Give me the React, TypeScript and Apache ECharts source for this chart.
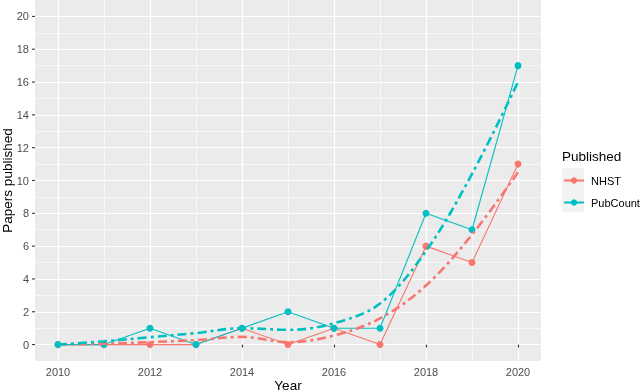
import React, { useEffect, useRef } from 'react';
import * as echarts from 'echarts';

const years = ['2010', '2011', '2012', '2013', '2014', '2015', '2016', '2017', '2018', '2019', '2020'];
const nhst = [0, 0, 0, 0, 1, 0, 1, 0, 6, 5, 11];
const pubCount = [0, 0, 1, 0, 1, 2, 1, 1, 8, 7, 17];
const nhstSmooth = [0, 0.05, 0.15, 0.27, 0.47, 0.15, 0.55, 1.6, 3.6, 6.7, 10.5];
const pubCountSmooth = [0, 0.2, 0.45, 0.7, 1.0, 0.9, 1.3, 2.5, 5.7, 10.4, 16.0];
const yTicks = [0, 2, 4, 6, 8, 10, 12, 14, 16, 18, 20];
const seriesNames = ['NHST', 'PubCount'];
const legendTitle = 'Published';
const xTitle = 'Year';
const yTitle = 'Papers published';

const Y_MIN = -1;
const Y_MAX = 21;
const RED = '#F8766D';
const TEAL = '#00BFC4';
const FONT = 'Liberation Sans, Arial, sans-serif';

function levelColors(pick: (v: number) => boolean): string[] {
  const out: string[] = [];
  for (let v = Y_MIN; v <= Y_MAX; v++) out.push(pick(v) ? '#FFFFFF' : 'rgba(0,0,0,0)');
  return out;
}

export default function App() {
  const ref = useRef<HTMLDivElement>(null);
  useEffect(() => {
    if (!ref.current) return;
    const chart = echarts.init(ref.current, undefined, { renderer: 'svg' });
    const dash = [9, 4, 3, 4];
    const option: any = {
      animation: false,
      textStyle: { fontFamily: FONT },
      graphic: [
        {
          type: 'rect',
          left: 562,
          top: 168,
          shape: { width: 22, height: 44 },
          style: { fill: '#F2F2F2' },
          z: -1,
        },
        {
          type: 'text',
          left: 562,
          top: 149,
          style: { text: legendTitle, fontSize: 13.5, fill: '#000', fontFamily: FONT },
        },
      ],
      grid: {
        left: 35,
        right: 99,
        top: 0,
        bottom: 30,
        show: true,
        backgroundColor: '#EBEBEB',
        borderWidth: 0,
        containLabel: false,
        outerBoundsMode: 'none',
      },
      legend: {
        data: seriesNames,
        orient: 'vertical',
        left: 558,
        top: 170,
        padding: 5,
        itemWidth: 20,
        itemHeight: 8,
        itemGap: 11,
        textStyle: { fontSize: 11, color: '#000', padding: [0, 0, 0, 2], fontFamily: FONT },
        lineStyle: { width: 2 },
      },
      xAxis: [
        {
          type: 'category',
          data: years,
          boundaryGap: true,
          name: xTitle,
          nameLocation: 'middle',
          nameGap: 17,
          nameMoveOverlap: false,
          nameTextStyle: { fontSize: 13.5, color: '#000', fontFamily: FONT },
          axisLine: { show: false },
          axisTick: {
            show: true,
            alignWithLabel: true,
            length: 3,
            interval: (i: number) => i % 2 === 0,
            lineStyle: { color: '#333333', width: 1.1 },
          },
          axisLabel: {
            interval: (i: number) => i % 2 === 0,
            color: '#4D4D4D',
            fontSize: 11,
            margin: 5,
            fontFamily: FONT,
          },
          splitLine: {
            show: true,
            alignWithLabel: true,
            interval: (i: number) => i % 2 === 0,
            lineStyle: { color: '#FFFFFF', width: 1.2 },
          },
        },
        {
          type: 'category',
          data: years,
          boundaryGap: true,
          position: 'bottom',
          axisLine: { show: false },
          axisTick: { show: false },
          axisLabel: { show: false },
          splitLine: {
            show: true,
            alignWithLabel: true,
            interval: (i: number) => i % 2 === 1,
            lineStyle: { color: '#FFFFFF', width: 0.6 },
          },
        },
      ],
      yAxis: [
        {
          type: 'value',
          min: Y_MIN,
          max: Y_MAX,
          interval: 1,
          name: yTitle,
          nameLocation: 'middle',
          nameGap: 21,
          nameMoveOverlap: false,
          nameTextStyle: { fontSize: 13.5, color: '#000', fontFamily: FONT },
          axisLine: { show: false },
          axisTick: { show: false },
          axisLabel: {
            color: '#4D4D4D',
            fontSize: 11,
            margin: 6,
            fontFamily: FONT,
            formatter: (v: number) => (yTicks.indexOf(v) >= 0 ? String(v) : ''),
          },
          splitLine: {
            show: true,
            lineStyle: { color: levelColors((v) => yTicks.indexOf(v) >= 0), width: 1.2 },
          },
        },
        {
          type: 'value',
          min: Y_MIN,
          max: Y_MAX,
          interval: 1,
          axisLine: { show: false },
          axisTick: { show: false },
          axisLabel: { show: false },
          splitLine: {
            show: true,
            lineStyle: {
              color: levelColors((v) => v > yTicks[0] && v < yTicks[yTicks.length - 1] && yTicks.indexOf(v) < 0),
              width: 0.6,
            },
          },
        },
      ],
      series: [
        {
          type: 'custom',
          silent: true,
          clip: false,
          data: yTicks.map((v) => [0, v]),
          encode: { x: 0, y: 1 },
          renderItem: (params: any, api: any) => {
            const p = api.coord([api.value(0), api.value(1)]);
            const left = params.coordSys.x;
            return {
              type: 'line',
              shape: { x1: left - 3, y1: p[1], x2: left, y2: p[1] },
              style: { stroke: '#333333', lineWidth: 1.1 },
            };
          },
        },
        {
          name: seriesNames[0],
          type: 'line',
          data: nhst,
          symbol: 'circle',
          symbolSize: 7,
          itemStyle: { color: RED },
          lineStyle: { color: RED, width: 1.1 },
          z: 3,
        },
        {
          name: seriesNames[1],
          type: 'line',
          data: pubCount,
          symbol: 'circle',
          symbolSize: 7,
          itemStyle: { color: TEAL },
          lineStyle: { color: TEAL, width: 1.1 },
          z: 3,
        },
        {
          name: seriesNames[0] + ' fit',
          type: 'line',
          data: nhstSmooth,
          smooth: 0.35,
          symbol: 'none',
          showSymbol: false,
          itemStyle: { color: RED },
          lineStyle: { color: RED, width: 2.6, type: dash },
          z: 4,
        },
        {
          name: seriesNames[1] + ' fit',
          type: 'line',
          data: pubCountSmooth,
          smooth: 0.35,
          symbol: 'none',
          showSymbol: false,
          itemStyle: { color: TEAL },
          lineStyle: { color: TEAL, width: 2.6, type: dash },
          z: 4,
        },
      ],
    };
    chart.setOption(option);
    return () => chart.dispose();
  }, []);
  return (
    <div
      ref={ref}
      style={{ position: 'fixed', left: 0, top: 0, width: 640, height: 391 }}
    />
  );
}
